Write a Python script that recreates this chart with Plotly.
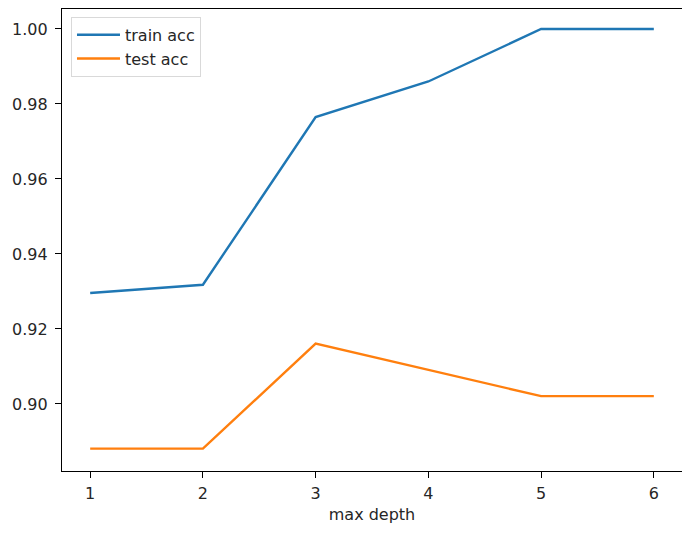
import plotly.graph_objects as go

depths = [1, 2, 3, 4, 5, 6]
train_acc = [0.9296, 0.9318, 0.9765, 0.9860, 1.0, 1.0]
test_acc = [0.8881, 0.8881, 0.9161, 0.9091, 0.9021, 0.9021]
y_ticks = [0.90, 0.92, 0.94, 0.96, 0.98, 1.00]

fig = go.Figure()
fig.add_trace(go.Scatter(x=depths, y=train_acc, mode="lines", name="train acc",
                         line=dict(color="#1f77b4", width=2.4)))
fig.add_trace(go.Scatter(x=depths, y=test_acc, mode="lines", name="test acc",
                         line=dict(color="#ff7f0e", width=2.4)))

# page body has an 8px margin, so the figure is sized/offset to compensate
fig.update_layout(
    width=682, height=525,
    margin=dict(l=54, r=8, t=1, b=62),
    paper_bgcolor="white", plot_bgcolor="white",
    font=dict(family="DejaVu Sans", size=16, color="#262626"),
    showlegend=True,
    legend=dict(x=0.0145, y=0.983, xanchor="left", yanchor="top",
                bgcolor="rgba(255,255,255,0.8)", bordercolor="#d9d9d9", borderwidth=1,
                font=dict(size=16, color="#262626"), tracegroupgap=2, itemwidth=43),
)
fig.update_xaxes(range=[0.75, 6.25], tickvals=depths, ticks="outside", ticklen=6,
                 tickcolor="black", tickwidth=1.2, showgrid=False, zeroline=False,
                 showline=True, linecolor="black", linewidth=1.3, mirror=True,
                 title=dict(text="max depth", font=dict(size=16), standoff=6),
                 tickfont=dict(size=16), ticklabelstandoff=2)
fig.update_yaxes(range=[0.88213, 1.00533], tickvals=y_ticks,
                 ticktext=[f"{v:.2f}" for v in y_ticks], ticks="outside", ticklen=6,
                 tickcolor="black", tickwidth=1.2, showgrid=False, zeroline=False,
                 showline=True, linecolor="black", linewidth=1.3, mirror=True,
                 tickfont=dict(size=16), ticklabelstandoff=4)

fig.write_html("out.html")
